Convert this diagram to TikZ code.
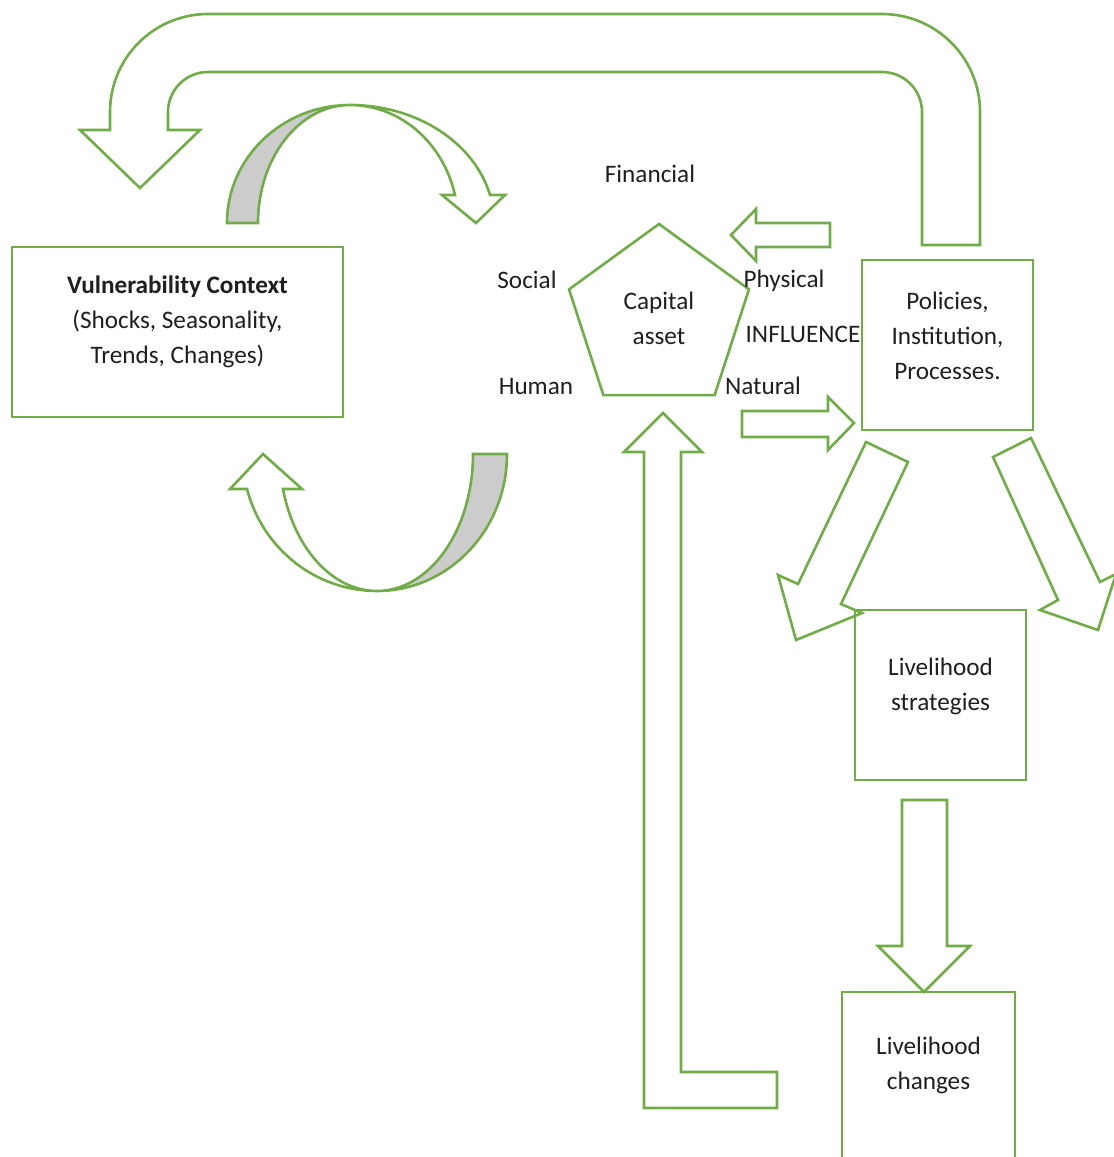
\documentclass[tikz,border=0pt]{standalone}
\usepackage{fontspec}
\setmainfont{Carlito}
\usepackage{xcolor}
\definecolor{leafgreen}{HTML}{70AD47}
\usetikzlibrary{shapes,positioning,calc}

\begin{document}
\begin{tikzpicture}[x=0.5pt,y=-0.5pt,
        panel/.style={draw=leafgreen, line width=1.3pt, rectangle, inner sep=0pt},
        lbl/.style={text=black!88, font=\fontsize{12.6}{17.5}\selectfont, align=center, inner sep=0pt},
        blockarr/.style={draw=leafgreen, line width=1.3pt, line join=miter},
        backface/.style={blockarr, fill=black!20}]
        \clip (0,0) rectangle (1114,1157);
        \fill[white] (0,0) rectangle (1114,1157);

        % Boxes
        \node[panel, minimum width=165.5pt, minimum height=85pt] (vul) at (177.5,332) {};
        \node[lbl] (vultxt) at ([yshift=-38pt]vul.north) {\textbf{Vulnerability Context}\\(Shocks, Seasonality,\\Trends, Changes)};
        \node[panel, minimum width=85.5pt, minimum height=85pt] (pol) at (947.5,345) {};
        \node[lbl] (poltxt) at ([yshift=-38.75pt]pol.north) {Policies,\\Institution,\\Processes.};
        \node[panel, minimum width=85.5pt, minimum height=85pt] (strat) at (940.5,695) {};
        \node[lbl] (strattxt) at ([yshift=-39pt]strat.north) {Livelihood\\strategies};
        \node[panel, minimum width=86.5pt, minimum height=95pt] (chg) at (928.5,1087) {};
        \node[lbl] (chgtxt) at ([yshift=-37.5pt]chg.north) {Livelihood\\changes};

        % Capital asset pentagon
        \node[lbl, draw=leafgreen, line width=1.3pt, regular polygon, regular polygon sides=5,
            minimum size=94.6pt] (cap) at (659,318.6) {Capital\\asset};
        \node[lbl, anchor=base] (fin) at (650,182) {Financial};
        \node[lbl, anchor=base] (soc) at (527,288) {Social};
        \node[lbl, anchor=base] (phy) at (784,287) {Physical};
        \node[lbl, anchor=base] (inf) at (803,342) {INFLUENCE};
        \node[lbl, anchor=base] (hum) at (536,394) {Human};
        \node[lbl, anchor=base] (nat) at (763,394) {Natural};

        % Return arrow over the top
        \draw[blockarr] (980,245) [rounded corners=49pt] -- (980,14) -- (110,14)
            [sharp corners] -- (110,130) -- (80,130) -- (140,188) -- (200,130) -- (168,130)
            [rounded corners=20pt] -- (168,72) -- (922,72) [sharp corners] -- (922,245) -- cycle;

        % Curved arrow, upper
        \draw[backface] (227,223) .. controls (227,157.8) and (282.1,105) .. (350,105)
            .. controls (299.2,105) and (258,157.8) .. (258,223) -- cycle;
        \draw[blockarr] (350,105) .. controls (416.4,105) and (474.2,142.3) .. (490,195)
            -- (505,195) -- (476,223) -- (442,195) -- (455,195)
            .. controls (443.1,142.3) and (399.8,105) .. (350,105);

        % Curved arrow, lower
        \draw[backface] (507,454) .. controls (507,529.7) and (448.8,591) .. (377,591)
            .. controls (430,591) and (473,529.7) .. (473,454) -- cycle;
        \draw[blockarr] (377,591) .. controls (316,591) and (262.6,549.1) .. (247,489)
            -- (230,489) -- (263,454) -- (302,489) -- (283,489)
            .. controls (294.3,549.1) and (332.9,591) .. (377,591);

        % Arrows between pentagon and policies
        \draw[blockarr] (830,223) -- (756,223) -- (756,209) -- (731,235) -- (756,261) -- (756,247) -- (830,247) -- cycle;
        \draw[blockarr] (742,411) -- (828,411) -- (828,397) -- (854,423) -- (828,450) -- (828,437) -- (742,437) -- cycle;

        % Diagonal arrows below policies
        \draw[blockarr] (866,442) -- (908,462) -- (841,604) -- (862,613) -- (796,640) -- (778,575) -- (798,584) -- cycle;
        \draw[blockarr] (993,457) -- (1031,438) -- (1100,582) -- (1116,574) -- (1098,630) -- (1040,610) -- (1058,600) -- cycle;

        % Strategies to changes
        \draw[blockarr] (902,800) -- (947,800) -- (947,946) -- (970,946) -- (924,992) -- (878,946) -- (902,946) -- cycle;

        % Long arrow up to the pentagon
        \draw[blockarr] (663,413) -- (702,452) -- (681,452) -- (681,1072) -- (777,1072) -- (777,1108)
            -- (644,1108) -- (644,452) -- (624,452) -- cycle;
    \end{tikzpicture}
\end{document}
